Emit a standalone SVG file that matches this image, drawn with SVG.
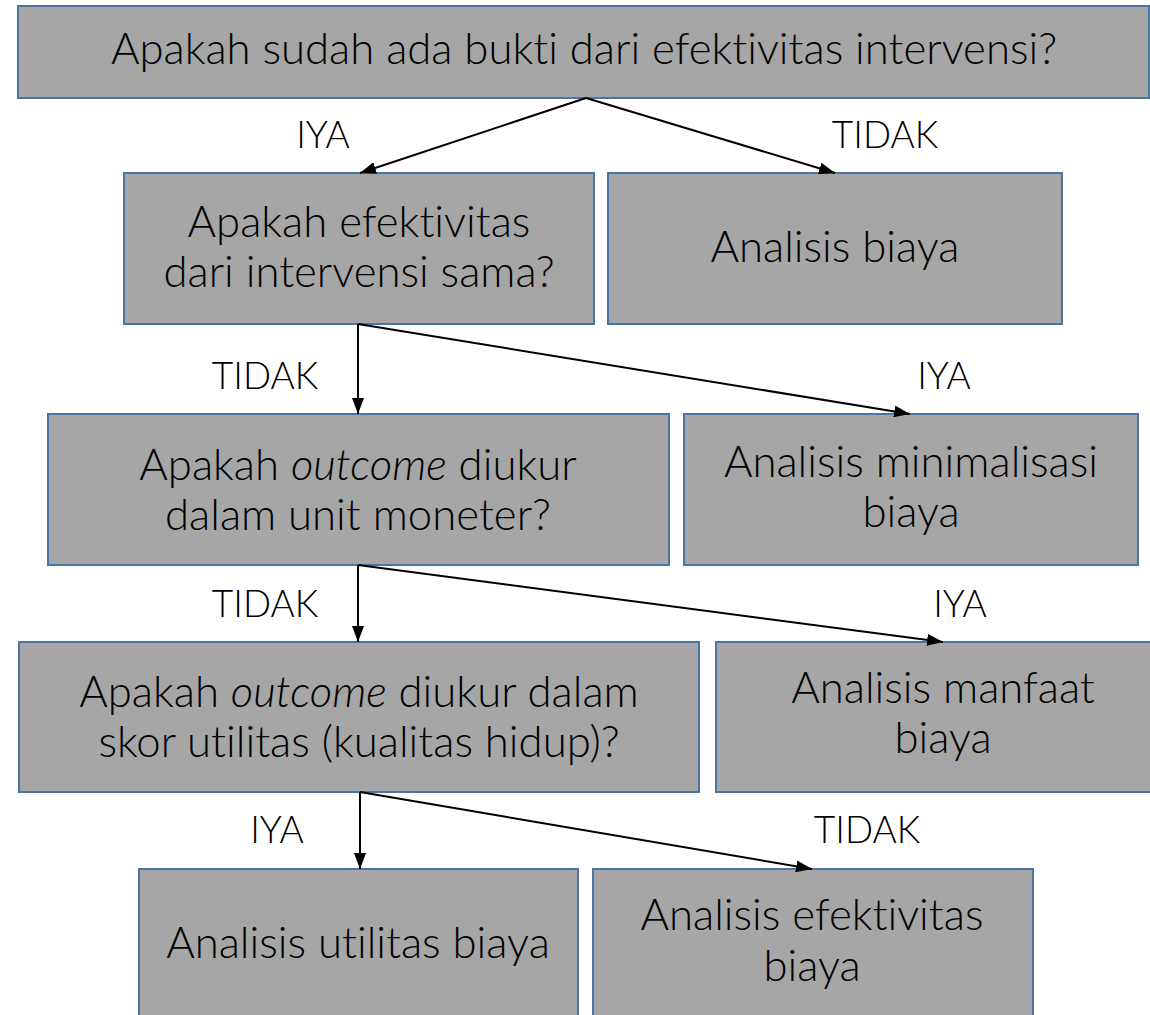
<svg xmlns="http://www.w3.org/2000/svg" width="1150" height="1015" viewBox="0 0 1150 1015">
<defs>
<style>
.box{fill:#a6a6a6;stroke:#4a76a6;stroke-width:2}
.t{font-family:Lato,"Noto Sans",sans-serif;font-size:43.7px;font-weight:300;fill:#000;text-anchor:middle;font-variant-ligatures:none}
.lbl{font-family:Lato,"Noto Sans",sans-serif;font-size:37px;font-weight:300;fill:#000;text-anchor:middle;font-variant-ligatures:none}
.c{stroke:#000;stroke-width:2;fill:none;marker-end:url(#ah)}
</style>
<marker id="ah" viewBox="0 0 16 12" refX="16" refY="6" markerWidth="16" markerHeight="12" markerUnits="userSpaceOnUse" orient="auto">
<path d="M0,0 L16,6 L0,12 Z" fill="#000"/>
</marker>
</defs>
<rect width="1150" height="1015" fill="#fff"/>
<g id="n1"><rect class="box" x="18" y="6" width="1131" height="92"/><text class="t" x="584" y="64">Apakah sudah ada bukti dari efektivitas intervensi?</text></g>
<g id="n2"><rect class="box" x="124" y="173" width="470" height="151"/><text class="t" x="359" y="237">Apakah efektivitas</text><text class="t" x="359" y="287">dari intervensi sama?</text></g>
<g id="n3"><rect class="box" x="608" y="173" width="454" height="151"/><text class="t" x="835" y="262">Analisis biaya</text></g>
<g id="n4"><rect class="box" x="48" y="414" width="621" height="151"/><text class="t" x="358" y="480">Apakah <tspan font-style="italic">outcome</tspan> diukur</text><text class="t" x="358" y="530">dalam unit moneter?</text></g>
<g id="n5"><rect class="box" x="684" y="414" width="454" height="151"/><text class="t" x="911" y="477">Analisis minimalisasi</text><text class="t" x="911" y="527">biaya</text></g>
<g id="n6"><rect class="box" x="19" y="642" width="680" height="150"/><text class="t" x="359" y="707">Apakah <tspan font-style="italic">outcome</tspan> diukur dalam</text><text class="t" x="359" y="757">skor utilitas (kualitas hidup)?</text></g>
<g id="n7"><rect class="box" x="716" y="642" width="450" height="150"/><text class="t" x="943" y="703">Analisis manfaat</text><text class="t" x="943" y="753">biaya</text></g>
<g id="n8"><rect class="box" x="139" y="869" width="439" height="160"/><text class="t" x="358" y="958">Analisis utilitas biaya</text></g>
<g id="n9"><rect class="box" x="593" y="869" width="440" height="160"/><text class="t" x="812" y="930">Analisis efektivitas</text><text class="t" x="812" y="981">biaya</text></g>
<g id="connectors">
<line class="c" x1="586" y1="98" x2="360" y2="173"/>
<line class="c" x1="586" y1="98" x2="835" y2="173"/>
<line class="c" x1="358" y1="324" x2="358" y2="414"/>
<line class="c" x1="358" y1="324" x2="910" y2="414"/>
<line class="c" x1="358" y1="565" x2="358" y2="642"/>
<line class="c" x1="358" y1="565" x2="943" y2="642"/>
<line class="c" x1="360" y1="792" x2="360" y2="869"/>
<line class="c" x1="360" y1="792" x2="812" y2="869"/>
</g>
<g id="labels">
<text class="lbl" x="323" y="148">IYA</text>
<text class="lbl" x="885" y="148">TIDAK</text>
<text class="lbl" x="265" y="389">TIDAK</text>
<text class="lbl" x="944" y="389">IYA</text>
<text class="lbl" x="265" y="617">TIDAK</text>
<text class="lbl" x="960" y="617">IYA</text>
<text class="lbl" x="277" y="843">IYA</text>
<text class="lbl" x="867" y="843">TIDAK</text>
</g>
</svg>
